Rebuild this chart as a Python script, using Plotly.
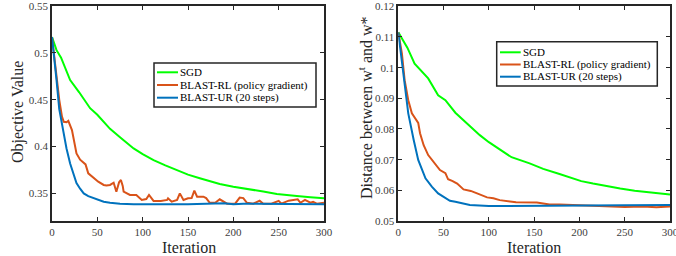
import plotly.graph_objects as go

# ---------------- Left panel: objective value ----------------
obj_sgd_iter = [0, 5, 10, 20, 30, 42, 50, 64, 75, 90, 100, 112, 125, 141, 150, 163, 175, 185,
                200, 211, 225, 233, 248, 260, 270, 285, 300]
obj_sgd_val = [0.517, 0.503, 0.495, 0.471, 0.458, 0.441, 0.434, 0.419, 0.410, 0.398, 0.392,
               0.3856, 0.380, 0.3731, 0.370, 0.3661, 0.3625, 0.360, 0.357, 0.3555, 0.353,
               0.352, 0.3494, 0.348, 0.3472, 0.346, 0.3448]

obj_rl_iter = [0, 3, 5, 8, 11, 13, 16, 18, 22, 25, 27, 31, 35, 37, 40, 46, 51, 57, 60, 64, 68,
               71, 74, 76, 78, 79, 86, 93, 99, 104, 107, 112, 120, 127, 128, 132, 138, 141, 145,
               150, 154, 157, 160, 167, 170, 174, 180, 185, 193, 202, 207, 211, 215, 222, 229,
               233, 242, 250, 253, 261, 266, 271, 274, 279, 285, 288, 292, 296, 300]
obj_rl_val = [0.517, 0.490, 0.4744, 0.450, 0.432, 0.4265, 0.426, 0.4275, 0.4176, 0.400, 0.3927,
              0.386, 0.382, 0.381, 0.3714, 0.366, 0.3625, 0.359, 0.3585, 0.359, 0.3614, 0.3518,
              0.362, 0.3643, 0.358, 0.3518, 0.3483, 0.3483, 0.343, 0.344, 0.3483, 0.342, 0.342,
              0.343, 0.3448, 0.3412, 0.343, 0.350, 0.343, 0.3448, 0.345, 0.353, 0.3465, 0.3465,
              0.345, 0.340, 0.340, 0.3437, 0.339, 0.339, 0.3455, 0.345, 0.340, 0.339, 0.3422,
              0.339, 0.339, 0.342, 0.339, 0.3422, 0.343, 0.3437, 0.340, 0.343, 0.340, 0.341,
              0.339, 0.3395, 0.340]

obj_ur_iter = [0, 2, 5, 8, 12, 16, 20, 24, 27, 31, 35, 40, 46, 50, 57, 64, 75, 90, 110, 150,
               190, 200, 211, 250, 300]
obj_ur_val = [0.517, 0.500, 0.471, 0.440, 0.4176, 0.398, 0.382, 0.370, 0.361, 0.355, 0.350,
              0.347, 0.345, 0.344, 0.341, 0.340, 0.339, 0.3385, 0.3384, 0.3384, 0.3395, 0.3384,
              0.339, 0.3384, 0.3384]

# ---------------- Right panel: distance ----------------
dist_sgd_iter = [0, 5, 10, 18, 25, 33, 44, 52, 63, 75, 90, 100, 114, 125, 145, 160, 178, 202,
                 215, 232, 245, 261, 280, 298, 300]
dist_sgd_val = [0.1115, 0.109, 0.1065, 0.1013, 0.0990, 0.0965, 0.0910, 0.0894, 0.0853, 0.0820,
                0.0780, 0.0757, 0.0731, 0.0708, 0.0688, 0.0670, 0.0653, 0.0630, 0.0622, 0.0612,
                0.0606, 0.0599, 0.0592, 0.0587, 0.0586]

dist_rl_iter = [0, 4, 7, 11, 15, 20, 22, 24, 28, 33, 39, 46, 52, 55, 60, 65, 72, 80, 87, 98,
                105, 112, 130, 153, 167, 178, 200, 230, 250, 270, 285, 300]
dist_rl_val = [0.1115, 0.1046, 0.0959, 0.0894, 0.0851, 0.0829, 0.0820, 0.0786, 0.0747, 0.0715,
               0.0693, 0.0666, 0.0656, 0.0636, 0.0630, 0.0622, 0.0603, 0.0598, 0.0590, 0.0577,
               0.0574, 0.0568, 0.0561, 0.0560, 0.0554, 0.0554, 0.0551, 0.0548, 0.0546, 0.0547,
               0.0545, 0.0547]

dist_ur_iter = [0, 4, 7, 11, 17, 22, 30, 37, 44, 52, 57, 63, 79, 100, 150, 200, 250, 300]
dist_ur_val = [0.1115, 0.1024, 0.0937, 0.0851, 0.0764, 0.0699, 0.0639, 0.0612, 0.0590, 0.0574,
               0.0566, 0.0563, 0.0552, 0.0549, 0.0549, 0.0550, 0.0551, 0.0552]

series_names = ["SGD", "BLAST-RL (policy gradient)", "BLAST-UR (20 steps)"]
series_colors = ["#00FF00", "#D95319", "#0072BD"]

x_ticks = [0, 50, 100, 150, 200, 250, 300]
obj_ticks = [0.35, 0.4, 0.45, 0.5, 0.55]
obj_ticktext = ["0.35", "0.4", "0.45", "0.5", "0.55"]
dist_ticks = [0.05, 0.06, 0.07, 0.08, 0.09, 0.10, 0.11, 0.12]
dist_ticktext = ["0.05", "0.06", "0.07", "0.08", "0.09", "0.1", "0.11", "0.12"]

x_title = "Iteration"
left_y_title = "Objective Value"
right_y_title = "Distance between w<sup>t</sup> and w*"

SERIF = "Liberation Serif"
AX = "#262626"
TICKC = "#404040"

fig = go.Figure()
left = [(obj_sgd_iter, obj_sgd_val), (obj_rl_iter, obj_rl_val), (obj_ur_iter, obj_ur_val)]
right = [(dist_sgd_iter, dist_sgd_val), (dist_rl_iter, dist_rl_val), (dist_ur_iter, dist_ur_val)]
for (xs, ys), name, col in zip(left, series_names, series_colors):
    fig.add_trace(go.Scatter(x=xs, y=ys, mode="lines", name=name, showlegend=False,
                             line=dict(color=col, width=2), xaxis="x", yaxis="y"))
for (xs, ys), name, col in zip(right, series_names, series_colors):
    fig.add_trace(go.Scatter(x=xs, y=ys, mode="lines", name=name, showlegend=False,
                             line=dict(color=col, width=2), xaxis="x2", yaxis="y2"))

W, H = 676, 256
yd = [1 - 221 / H, 1 - 6 / H]
common_axis = dict(showline=True, linecolor=AX, linewidth=1.6, mirror="ticks", ticks="inside",
                   ticklen=4, tickcolor=AX, showgrid=False, zeroline=False, automargin=False,
                   ticklabeloverflow="allow",
                   tickfont=dict(family=SERIF, size=11, color=TICKC))
title_font = dict(family=SERIF, size=16, color=AX)

fig.update_layout(
    width=W, height=H, margin=dict(l=0, r=0, t=0, b=0, autoexpand=False),
    paper_bgcolor="white", plot_bgcolor="white", showlegend=False,
    xaxis=dict(domain=[52 / W, 324 / W], range=[0, 300], tickvals=x_ticks, anchor="y",
               **common_axis),
    yaxis=dict(domain=yd, range=[0.3205, 0.5502], tickvals=obj_ticks, ticktext=obj_ticktext,
               anchor="x", **common_axis),
    xaxis2=dict(domain=[398.3 / W, 670 / W], range=[0, 300], tickvals=x_ticks, anchor="y2",
                **common_axis),
    yaxis2=dict(domain=yd, range=[0.05, 0.1201], tickvals=dist_ticks, ticktext=dist_ticktext,
                anchor="x2", **common_axis),
)


def px(x):
    return x / W


def py(y):
    return 1 - y / H


# Axis titles
for xc in (188.5, 533.5):
    fig.add_annotation(xref="paper", yref="paper", x=px(xc), y=py(247), text=x_title,
                       showarrow=False, xanchor="center", yanchor="middle", font=title_font)
fig.add_annotation(xref="paper", yref="paper", x=px(18), y=py(112), text=left_y_title,
                   textangle=-90, showarrow=False, xanchor="center", yanchor="middle",
                   font=title_font)
fig.add_annotation(xref="paper", yref="paper", x=px(365), y=py(108), text=right_y_title,
                   textangle=-90, showarrow=False, xanchor="center", yanchor="middle",
                   font=title_font)

# Legend boxes (drawn in paper coordinates, pixel positions converted)
legend_boxes = [
    dict(x0=154, x1=316, y0=63, y1=107, rows=[72.3, 85.0, 97.7], lx0=157, lx1=178, tx=179),
    dict(x0=496.7, x1=657.3, y0=41.7, y1=86, rows=[52.3, 64.5, 76.7], lx0=500, lx1=520.7, tx=521.5),
]
for box in legend_boxes:
    fig.add_shape(type="rect", xref="paper", yref="paper", x0=px(box["x0"]), x1=px(box["x1"]),
                  y0=py(box["y1"]), y1=py(box["y0"]), fillcolor="white",
                  line=dict(color=AX, width=1.5), layer="above")
    for row, name, col in zip(box["rows"], series_names, series_colors):
        fig.add_shape(type="line", xref="paper", yref="paper", x0=px(box["lx0"]),
                      x1=px(box["lx1"]), y0=py(row), y1=py(row), line=dict(color=col, width=2),
                      layer="above")
        fig.add_annotation(xref="paper", yref="paper", x=px(box["tx"]), y=py(row), text=name,
                           showarrow=False, xanchor="left", yanchor="middle",
                           font=dict(family=SERIF, size=11, color="black"),
                           borderpad=0)

fig.write_html("out.html", config={"displayModeBar": False},
               post_script="document.body.style.margin='0';document.body.style.overflow='hidden';")
